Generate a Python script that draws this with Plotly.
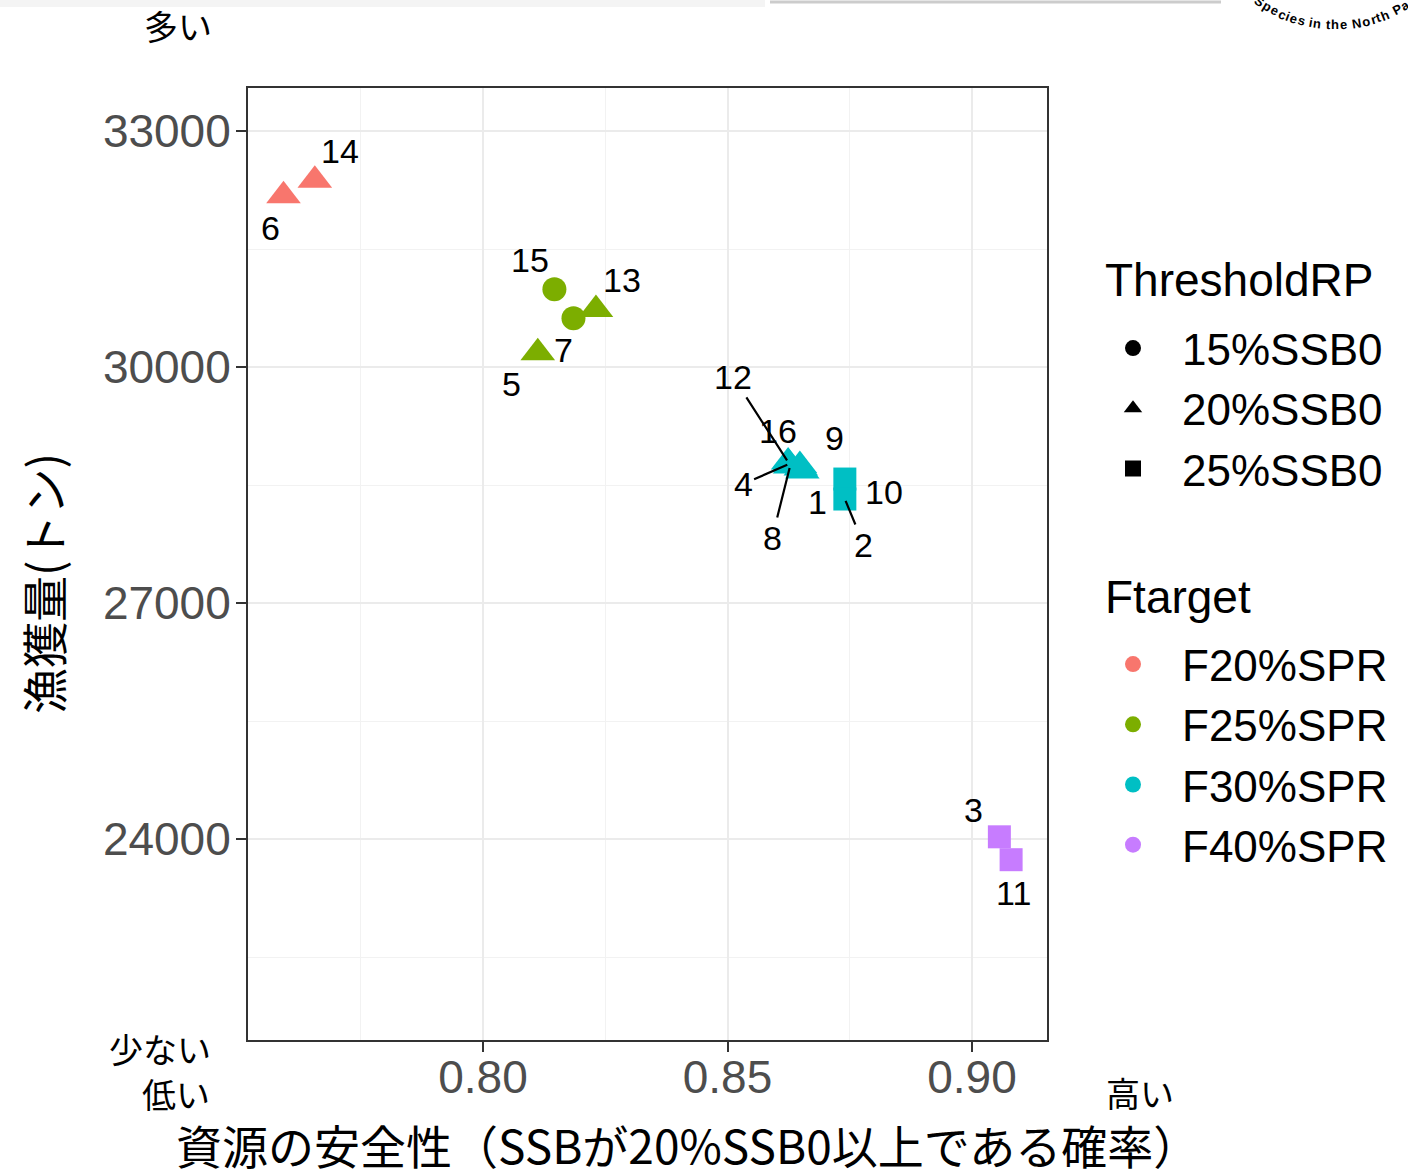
import math
import plotly.graph_objects as go

# ---------------- data ----------------
scenario = ["6", "14", "15", "7", "13", "5", "12", "4", "8", "16", "9", "1", "10", "2", "3", "11"]
safety = [0.7592, 0.7656, 0.8146, 0.8185, 0.8231, 0.8112, 0.8624, 0.8626, 0.8628,
          0.8648, 0.8653, 0.8650, 0.8740, 0.8740, 0.9056, 0.9080]
catch = [32176, 32373, 30988, 30619, 30731, 30181, 28793, 28767, 28742,
         28748, 28678, 28716, 28576, 28322, 24028, 23737]
threshold = ["20%SSB0", "20%SSB0", "15%SSB0", "15%SSB0", "20%SSB0", "20%SSB0",
             "20%SSB0", "20%SSB0", "20%SSB0", "20%SSB0", "20%SSB0", "20%SSB0",
             "25%SSB0", "25%SSB0", "25%SSB0", "25%SSB0"]
ftarget = ["F20%SPR", "F20%SPR", "F25%SPR", "F25%SPR", "F25%SPR", "F25%SPR",
           "F30%SPR", "F30%SPR", "F30%SPR", "F30%SPR", "F30%SPR", "F30%SPR",
           "F30%SPR", "F30%SPR", "F40%SPR", "F40%SPR"]

threshold_levels = ["15%SSB0", "20%SSB0", "25%SSB0"]
ftarget_levels = ["F20%SPR", "F25%SPR", "F30%SPR", "F40%SPR"]
x_ticks = [0.80, 0.85, 0.90]
y_ticks = [24000, 27000, 30000, 33000]

# ---------------- styles ----------------
colors = {"F20%SPR": "#F8766D", "F25%SPR": "#7CAE00", "F30%SPR": "#00BFC4", "F40%SPR": "#C77CFF"}
symbols = {"15%SSB0": "circle", "20%SSB0": "triangle-up", "25%SSB0": "square"}
sizes = {"15%SSB0": 24, "20%SSB0": 30, "25%SSB0": 23}

# label offsets in pixels (dx, dy down-positive, draw segment)
label_offsets = {
    "6": (-13, 32, False), "14": (25, -29, False), "15": (-24, -29, False),
    "7": (-10, 32, False), "13": (26, -30, False), "5": (-26, 31, False),
    "12": (-55, -85, True), "4": (-46, 20, True), "8": (-18, 72, True),
    "16": (-22, -35, False), "9": (32, -33, False), "1": (17, 34, False),
    "10": (39, 13, False), "2": (19, 46, True), "3": (-26, -27, False),
    "11": (2, 33, False),
}

LAT = "Liberation Sans, Arial, sans-serif"
CJK = "Noto Sans CJK JP, sans-serif"

W, H = 1408, 1169
ML, MR, MT, MB = 248, 361, 88, 129
PW, PH = W - ML - MR, H - MT - MB


def px_to_paper(px, py):
    return (px - ML) / PW, 1 - (py - MT) / PH


fig = go.Figure()

# data points, one trace per Ftarget
for ft in ftarget_levels:
    idx = [i for i, f in enumerate(ftarget) if f == ft]
    fig.add_trace(go.Scatter(
        x=[safety[i] for i in idx],
        y=[catch[i] for i in idx],
        mode="markers",
        marker=dict(color=colors[ft], opacity=1,
                    symbol=[symbols[threshold[i]] for i in idx],
                    size=[sizes[threshold[i]] for i in idx],
                    line=dict(width=0)),
        showlegend=False,
        hoverinfo="skip",
    ))

# legend 1: shapes
for th in threshold_levels:
    fig.add_trace(go.Scatter(
        x=[None], y=[None], mode="markers", name=th,
        marker=dict(color="black", symbol=symbols[th], size=16),
        legend="legend", showlegend=True,
    ))
# legend 2: colors
for ft in ftarget_levels:
    fig.add_trace(go.Scatter(
        x=[None], y=[None], mode="markers", name=ft,
        marker=dict(color=colors[ft], symbol="circle", size=16),
        legend="legend2", showlegend=True,
    ))

annotations = []
for i, s in enumerate(scenario):
    dx, dy, seg = label_offsets[s]
    if seg:
        annotations.append(dict(
            x=safety[i], y=catch[i], xref="x", yref="y", text=s,
            showarrow=True, ax=dx, ay=dy, arrowhead=0, arrowwidth=2.2,
            arrowcolor="black", standoff=2, startstandoff=0,
            font=dict(family=LAT, size=34, color="black"),
        ))
    else:
        annotations.append(dict(
            x=safety[i], y=catch[i], xref="x", yref="y", text=s,
            showarrow=False, xshift=dx, yshift=-dy,
            font=dict(family=LAT, size=34, color="black"),
        ))

# corner words
for txt, px, py in [("多い", 178, 25), ("少ない", 160, 1048), ("低い", 176, 1093), ("高い", 1140, 1092)]:
    xp, yp = px_to_paper(px, py)
    annotations.append(dict(x=xp, y=yp, xref="paper", yref="paper", text=txt,
                            showarrow=False, xanchor="center", yanchor="middle",
                            font=dict(family=CJK, size=34, color="black")))

# legend titles
for txt, py in [("ThresholdRP", 280), ("Ftarget", 597)]:
    xp, yp = px_to_paper(1103, py)
    annotations.append(dict(x=xp, y=yp, xref="paper", yref="paper", text=txt,
                            showarrow=False, xanchor="left", yanchor="middle",
                            font=dict(family=LAT, size=46, color="black")))

# axis titles
xp, yp = px_to_paper(687, 1144)
annotations.append(dict(x=xp, y=yp, xref="paper", yref="paper",
                        text="資源の安全性（SSBが20%SSB0以上である確率）",
                        showarrow=False, xanchor="center", yanchor="middle",
                        font=dict(family=CJK, size=46, color="black")))
xp, yp = px_to_paper(42, 583)
annotations.append(dict(x=xp, y=yp, xref="paper", yref="paper",
                        text="漁獲量(トン)", textangle=-90,
                        showarrow=False, xanchor="center", yanchor="middle",
                        font=dict(family=CJK, size=46, color="black")))

# curved logo text at top right
logo = "Species in the North Pacific"
wid = {"S": .667, "p": .611, "e": .556, "c": .556, "i": .278, "s": .556, " ": .278,
       "n": .611, "t": .333, "h": .611, "N": .722, "o": .611, "r": .389, "P": .667,
       "a": .556, "f": .333}
fs = 13
cx, cy, R = 1335, -109, 134
spread = 1.12
pos = []
cum = 0
for ch in logo:
    w = wid.get(ch, .55) * fs * spread
    pos.append(cum + w / 2)
    cum += w
s_off = -71.0 - pos[1]
for k, ch in enumerate(logo):
    if ch == " ":
        continue
    phi = (pos[k] + s_off) / R
    lx = cx + R * math.sin(phi)
    ly = cy + R * math.cos(phi)
    if lx > W + 5 or ly < -8:
        continue
    xp, yp = px_to_paper(lx, ly)
    annotations.append(dict(x=xp, y=yp, xref="paper", yref="paper", text=ch,
                            showarrow=False, xanchor="center", yanchor="middle",
                            textangle=-math.degrees(phi),
                            font=dict(family="Liberation Sans", size=fs, color="black", weight="bold")))

shapes = []
x0, y0 = px_to_paper(0, 0)
x1, y1 = px_to_paper(765, 7)
shapes.append(dict(type="rect", xref="paper", yref="paper", x0=x0, x1=x1, y0=y1, y1=y0,
                   fillcolor="#F4F4F4", line=dict(width=0), layer="below"))
x0, y0 = px_to_paper(770, 2)
x1, _ = px_to_paper(1221, 2)
shapes.append(dict(type="line", xref="paper", yref="paper", x0=x0, x1=x1, y0=y0, y1=y0,
                   line=dict(color="#CCCCCC", width=3)))

axis_common = dict(
    showline=True, mirror=True, linecolor="#333333", linewidth=2,
    ticks="outside", ticklen=10, tickwidth=2, tickcolor="#333333",
    showgrid=True, gridcolor="#EBEBEB", gridwidth=2.4,
    zeroline=False,
    tickfont=dict(family=LAT, size=46, color="#4D4D4D"),
)

lx1, ly1 = px_to_paper(1099, 313)
lx2, ly2 = px_to_paper(1099, 629)
legend_common = dict(font=dict(family=LAT, size=44, color="black"),
                     xanchor="left", yanchor="top", itemwidth=88, indentation=-15,
                     bgcolor="rgba(0,0,0,0)", tracegroupgap=0)

fig.update_layout(
    width=W, height=H,
    margin=dict(l=ML, r=MR, t=MT, b=MB, pad=0),
    paper_bgcolor="white", plot_bgcolor="white",
    xaxis=dict(range=[0.75194, 0.91534], tickvals=x_ticks, tickformat=".2f",
               minor=dict(dtick=0.025, tick0=0.775, showgrid=True, gridcolor="#F2F2F2",
                          gridwidth=1.2, ticks=""),
               ticklabelstandoff=-14, **axis_common),
    yaxis=dict(range=[21445, 33547], tickvals=y_ticks, tickformat="d",
               minor=dict(dtick=1500, tick0=22500, showgrid=True, gridcolor="#F2F2F2",
                          gridwidth=1.2, ticks=""),
               ticklabelstandoff=-4, **axis_common),
    legend=dict(x=lx1, y=ly1, **legend_common),
    legend2=dict(x=lx2, y=ly2, **legend_common),
    annotations=annotations,
    shapes=shapes,
    showlegend=True,
)

fig.write_html("out.html", config={"displayModeBar": False},
               post_script="document.body.style.margin='0';")
